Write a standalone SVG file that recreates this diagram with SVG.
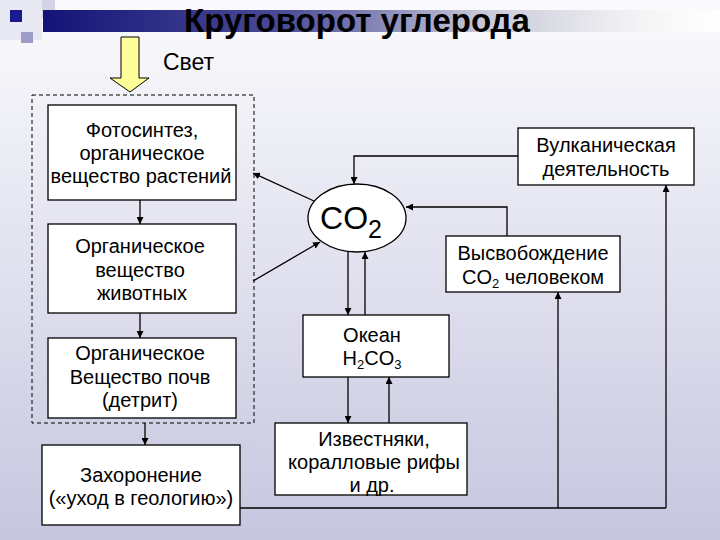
<svg xmlns="http://www.w3.org/2000/svg" width="720" height="540" viewBox="0 0 720 540">
<defs>
<linearGradient id="bg" x1="0" y1="0" x2="0" y2="1">
<stop offset="0" stop-color="#fbfbfd"/>
<stop offset="0.4" stop-color="#e6e6f2"/>
<stop offset="1" stop-color="#c6c6df"/>
</linearGradient>
<linearGradient id="bar" x1="0" y1="0" x2="1" y2="0">
<stop offset="0" stop-color="#141478"/>
<stop offset="0.35" stop-color="#4a4a96"/>
<stop offset="0.65" stop-color="#c8c8d8"/>
<stop offset="0.88" stop-color="#f4f4f6"/>
<stop offset="1" stop-color="#ffffff"/>
</linearGradient>
<marker id="ah" viewBox="0 0 10 10" refX="10" refY="5" markerWidth="7" markerHeight="7" markerUnits="userSpaceOnUse" orient="auto">
<path d="M0,0 L10,5 L0,10 z" fill="#000"/>
</marker>
<style>
.box{fill:#fff;stroke:#000;stroke-width:1.3}
.t{font-family:"Liberation Sans",Arial,sans-serif;font-size:20px;fill:#000;text-anchor:middle}
.c{fill:none;stroke:#000;stroke-width:1.3}
.a{fill:none;stroke:#000;stroke-width:1.3;marker-end:url(#ah)}
</style>
</defs>
<rect width="720" height="540" fill="url(#bg)"/>
<g id="decor">
<rect x="0" y="0" width="42" height="40" fill="#e8e8f2"/>
<rect x="42" y="0" width="13" height="18" fill="#d4d4e6"/>
<rect x="43" y="10" width="677" height="22" fill="url(#bar)"/>
<rect x="10" y="10" width="12" height="12" fill="#1a1a90"/>
<rect x="21" y="32" width="12" height="11" fill="#9c9cc8"/>
</g>
<text x="357" y="32" font-family="'Liberation Sans',Arial,sans-serif" font-size="33" font-weight="bold" text-anchor="middle" fill="#000">Круговорот углерода</text>
<g id="light">
<path d="M121,37 H139 V78 H149 L130,92 L110,78 H121 Z" fill="#ffff99" stroke="#000" stroke-width="1"/>
<text x="163" y="70" font-family="'Liberation Sans',Arial,sans-serif" font-size="23" fill="#000">Свет</text>
</g>
<rect id="biosphere" x="32" y="95" width="222" height="328" fill="none" stroke="#000" stroke-width="1" stroke-dasharray="4,3"/>
<g id="photosynthesis">
<rect class="box" x="48" y="105" width="188" height="95"/>
<text class="t" x="142" y="137">Фотосинтез,</text>
<text class="t" x="142" y="160">органическое</text>
<text class="t" x="141" y="183">вещество растений</text>
</g>
<g id="animals">
<rect class="box" x="48" y="224" width="188" height="89"/>
<text class="t" x="140" y="253">Органическое</text>
<text class="t" x="140" y="277">вещество</text>
<text class="t" x="142" y="300">животных</text>
</g>
<g id="soil">
<rect class="box" x="48" y="338" width="188" height="80"/>
<text class="t" x="140" y="360">Органическое</text>
<text class="t" x="140" y="384">Вещество почв</text>
<text class="t" x="140" y="407">(детрит)</text>
</g>
<g id="burial">
<rect class="box" x="42" y="445" width="198" height="80"/>
<text class="t" x="141" y="482">Захоронение</text>
<text class="t" x="141" y="505">(«уход в геологию»)</text>
</g>
<g id="co2">
<ellipse cx="357" cy="218" rx="49" ry="34" fill="#fff" stroke="#000" stroke-width="1.3"/>
<text x="351" y="229" font-family="'Liberation Sans',Arial,sans-serif" font-size="32" text-anchor="middle" fill="#000">CO<tspan font-size="25" dy="9">2</tspan></text>
</g>
<g id="volcano">
<rect class="box" x="518" y="128" width="176" height="57"/>
<text class="t" x="606" y="152">Вулканическая</text>
<text class="t" x="606" y="176">деятельность</text>
</g>
<g id="human">
<rect class="box" x="446" y="236" width="174" height="56"/>
<text class="t" x="533" y="260">Высвобождение</text>
<text class="t" x="533" y="284">CO<tspan font-size="13" dy="4">2</tspan><tspan dy="-4"> человеком</tspan></text>
</g>
<g id="ocean">
<rect class="box" x="303" y="315" width="146" height="62"/>
<text class="t" x="372" y="342">Океан</text>
<text class="t" x="372" y="365">H<tspan font-size="13" dy="4">2</tspan><tspan dy="-4">CO</tspan><tspan font-size="13" dy="4">3</tspan></text>
</g>
<g id="limestone">
<rect class="box" x="275" y="423" width="192" height="72"/>
<text class="t" x="374" y="446">Известняки,</text>
<text class="t" x="374" y="469">коралловые рифы</text>
<text class="t" x="372" y="492">и др.</text>
</g>
<g id="connectors">
<line class="a" x1="140" y1="200" x2="140" y2="224"/>
<line class="a" x1="140" y1="313" x2="140" y2="338"/>
<line class="a" x1="145" y1="423" x2="145" y2="445"/>
<line class="a" x1="314" y1="201" x2="253" y2="173"/>
<line class="a" x1="253" y1="281" x2="320" y2="242"/>
<polyline class="a" points="518,156 354,156 354,184"/>
<polyline class="a" points="507,236 507,207 406,207"/>
<line class="a" x1="348" y1="252" x2="348" y2="315"/>
<line class="a" x1="365" y1="315" x2="365" y2="252"/>
<line class="a" x1="348" y1="377" x2="348" y2="423"/>
<line class="a" x1="389" y1="423" x2="389" y2="377"/>
<polyline class="c" points="240,508 666,508"/>
<line class="a" x1="558" y1="508" x2="558" y2="292"/>
<line class="a" x1="666" y1="508" x2="666" y2="185"/>
</g>
</svg>
